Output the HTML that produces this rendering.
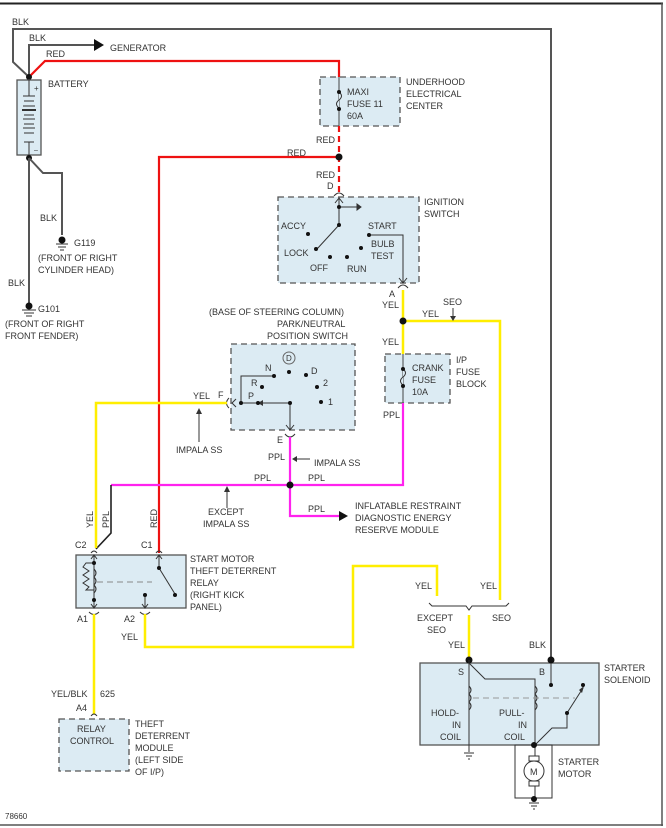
<!DOCTYPE html>
<html><head><meta charset="utf-8"><style>
html,body{margin:0;padding:0;background:#fff;}
svg{display:block;}
text{font-family:"Liberation Sans",Arial,sans-serif;font-size:9px;fill:#333;}
.bx{fill:#dcebf3;stroke:#555;stroke-width:1.3;stroke-dasharray:6,4;}
.sb{fill:#dcebf3;stroke:#555;stroke-width:1.3;}
.k{stroke:#555;stroke-width:2;fill:none;}
.t{stroke:#333;stroke-width:1;fill:none;}
.r{stroke:#ee1111;stroke-width:2.2;fill:none;}
.y{stroke:#ffee00;stroke-width:2.5;fill:none;}
.p{stroke:#ff22ee;stroke-width:2.2;fill:none;}
</style></head><body>
<svg width="666" height="828" viewBox="0 0 666 828" xmlns="http://www.w3.org/2000/svg">
<line x1="0" y1="3.5" x2="663" y2="3.5" stroke="#222" stroke-width="2"/>
<line x1="662" y1="3" x2="662" y2="826" stroke="#555" stroke-width="1.5"/>
<line x1="0" y1="825" x2="663" y2="825" stroke="#555" stroke-width="1.5"/>

<polyline class="k" points="29,77 13,62 13,29 551,29 551,663"/>
<polyline class="k" points="29,77 29,45 95,45"/>
<polygon points="94,39 104,45 94,51" fill="#111"/>
<text x="12" y="25">BLK</text>
<text x="29" y="41">BLK</text>
<text x="110" y="51">GENERATOR</text>
<text x="46" y="57">RED</text>
<polyline class="r" points="29,77 45,61 339,61 339,90"/>
<circle cx="29" cy="77" r="3" fill="#111"/>

<rect x="17" y="80" width="24" height="75" class="sb"/>
<text x="34" y="91" style="font-size:8px">+</text>
<text x="34" y="152" style="font-size:7px">–</text>
<g stroke="#333" stroke-width="1">
<line x1="29" y1="80" x2="29" y2="96"/>
<line x1="23" y1="96" x2="35" y2="96"/>
<line x1="24" y1="101" x2="34" y2="101"/>
<line x1="23" y1="106" x2="35" y2="106"/>
<line x1="22" y1="110" x2="36" y2="110" stroke-width="2"/>
<line x1="24" y1="115" x2="34" y2="115"/>
<line x1="23" y1="119" x2="35" y2="119"/>
<line x1="24" y1="124" x2="34" y2="124"/>
<line x1="23" y1="128" x2="35" y2="128"/>
<line x1="24" y1="133" x2="34" y2="133"/>
<line x1="24" y1="142" x2="34" y2="142"/>
<line x1="29" y1="142" x2="29" y2="155"/>
</g>
<text x="48" y="87">BATTERY</text>
<circle cx="29" cy="158" r="3" fill="#111"/>
<polyline class="k" points="29,158 29,305"/>
<polyline class="k" points="29,158 43,173 62,173 62,235"/>
<text x="40" y="221">BLK</text>
<text x="8" y="286">BLK</text>
<g stroke="#333" stroke-width="1">
<line x1="56" y1="244" x2="68" y2="244"/><line x1="58" y1="247" x2="66" y2="247"/><line x1="60" y1="250" x2="64" y2="250"/>
<line x1="22" y1="310" x2="36" y2="310"/><line x1="24" y1="313" x2="34" y2="313"/><line x1="26" y1="316" x2="32" y2="316"/>
</g>
<circle cx="62" cy="240" r="3.5" fill="#111"/>
<circle cx="29" cy="306" r="3.5" fill="#111"/>
<text x="74" y="246">G119</text>
<text x="38" y="312">G101</text>
<text x="38" y="261">(FRONT OF RIGHT</text>
<text x="38" y="273">CYLINDER HEAD)</text>
<text x="5" y="327">(FRONT OF RIGHT</text>
<text x="5" y="339">FRONT FENDER)</text>

<rect x="320" y="77" width="80" height="49" class="bx"/>
<line x1="339" y1="77" x2="339" y2="126" stroke="#444" stroke-width="1"/>
<path d="M339,92 q5,4 0,8 q-5,4 0,8" fill="#dcebf3" stroke="#333"/>
<circle cx="339" cy="92" r="2" fill="#111"/><circle cx="339" cy="109" r="2" fill="#111"/>
<text x="347" y="95">MAXI</text><text x="347" y="107">FUSE 11</text><text x="347" y="119">60A</text>
<text x="406" y="85">UNDERHOOD</text><text x="406" y="97">ELECTRICAL</text><text x="406" y="109">CENTER</text>
<line x1="339" y1="126" x2="339" y2="192" stroke="#ee1111" stroke-width="2.2" stroke-dasharray="6,4"/>
<text x="316" y="143">RED</text>
<text x="287" y="156">RED</text>
<polyline class="r" points="339,157 159,157 159,553"/>
<circle cx="339" cy="157" r="3.5" fill="#111"/>
<text x="316" y="178">RED</text>
<text x="327" y="189">D</text>
<path d="M334,196 q5,-6 10,0" class="t"/>

<rect x="278" y="197" width="141" height="86" class="bx"/>
<g stroke="#333" stroke-width="1" fill="none">
<line x1="339" y1="197" x2="339" y2="225"/>
<path d="M335,203 l4,-5 l4,5"/>
<line x1="339" y1="207" x2="357" y2="207"/>
<polygon points="357,204 361,207 357,210" fill="#333"/>
<line x1="339" y1="225" x2="317" y2="249"/>
<polyline points="369,235 403,235 403,283"/>
<path d="M399,278 l4,5 l4,-5"/>
</g>
<g fill="#111">
<circle cx="339" cy="207" r="2"/><circle cx="339" cy="225" r="2"/><circle cx="308" cy="234" r="2"/>
<circle cx="316" cy="249" r="2"/><circle cx="330" cy="257" r="2"/><circle cx="347" cy="257" r="2"/>
<circle cx="361" cy="248" r="2"/><circle cx="369" cy="235" r="2"/>
</g>
<text x="281" y="229">ACCY</text><text x="284" y="256">LOCK</text>
<text x="310" y="271">OFF</text><text x="347" y="272">RUN</text>
<text x="368" y="229">START</text><text x="371" y="247">BULB</text><text x="371" y="259">TEST</text>
<text x="424" y="205">IGNITION</text><text x="424" y="217">SWITCH</text>

<path d="M398,288 q5,-6 10,0" class="t"/>
<text x="389" y="297">A</text><text x="382" y="308">YEL</text>
<polyline class="y" points="403,290 403,354"/>
<polyline class="y" points="403,321 500,321 500,600"/>
<circle cx="403" cy="321" r="3.5" fill="#111"/>
<text x="422" y="317">YEL</text>
<text x="443" y="305">SEO</text>
<line x1="453" y1="308" x2="453" y2="319" stroke="#333"/>
<polygon points="450,316 453,321 456,316" fill="#333"/>
<text x="382" y="345">YEL</text>

<rect x="385" y="354" width="65" height="49" class="bx"/>
<line x1="403" y1="354" x2="403" y2="403" stroke="#444" stroke-width="1"/>
<path d="M403,369 q5,4 0,8 q-5,4 0,8" fill="#dcebf3" stroke="#333"/>
<circle cx="403" cy="369" r="2" fill="#111"/><circle cx="403" cy="386" r="2" fill="#111"/>
<text x="412" y="371">CRANK</text><text x="412" y="383">FUSE</text><text x="412" y="395">10A</text>
<text x="456" y="363">I/P</text><text x="456" y="375">FUSE</text><text x="456" y="387">BLOCK</text>
<text x="383" y="418">PPL</text>
<polyline class="p" points="403,403 403,485 111,485"/>
<polyline points="111,485 111,533 96,549" stroke="#222" stroke-width="1.6" fill="none"/>

<text x="209" y="315">(BASE OF STEERING COLUMN)</text>
<text x="277" y="327">PARK/NEUTRAL</text>
<text x="267" y="339">POSITION SWITCH</text>
<rect x="231" y="344" width="124" height="86" class="bx"/>
<circle cx="289" cy="358" r="6" fill="none" stroke="#666"/>
<text x="286" y="361" style="font-size:8px">D</text>
<g stroke="#333" stroke-width="1" fill="none">
<polyline points="274,376 241,376 241,403"/>
<line x1="241" y1="403" x2="290" y2="403"/>
<line x1="290" y1="403" x2="290" y2="430"/>
<path d="M286,425 l4,5 l4,-5"/>
<path d="M236,399 l-4,4 l4,4"/>
</g>
<polygon points="263,400 258,403 263,406" fill="#333"/>
<g fill="#111">
<circle cx="274" cy="376" r="2"/><circle cx="289" cy="372" r="2"/><circle cx="306" cy="375" r="2"/>
<circle cx="262" cy="387" r="2"/><circle cx="317" cy="387" r="2"/><circle cx="321" cy="402" r="2"/>
<circle cx="241" cy="403" r="2"/><circle cx="258" cy="403" r="2"/><circle cx="290" cy="403" r="2"/>
</g>
<text x="265" y="371">N</text><text x="251" y="386">R</text><text x="248" y="399">P</text>
<text x="311" y="374">D</text><text x="323" y="386">2</text><text x="328" y="405">1</text>
<path d="M229,398 q-5,5 0,10" class="t"/>
<text x="218" y="398">F</text>
<text x="193" y="399">YEL</text>
<polyline class="y" points="227,403 96,403 96,548"/>
<line x1="199" y1="410" x2="199" y2="442" stroke="#333"/>
<polygon points="196,414 199,408 202,414" fill="#333"/>
<text x="176" y="453">IMPALA SS</text>
<path d="M285,434 q5,6 10,0" class="t"/>
<text x="277" y="443">E</text>
<polyline class="p" points="290,437 290,516 340,516"/>
<polygon points="339,511 348,516 339,521" fill="#111"/>
<circle cx="290" cy="485" r="3.5" fill="#111"/>
<text x="268" y="460">PPL</text>
<line x1="293" y1="459" x2="310" y2="459" stroke="#333"/>
<polygon points="297,456 292,459 297,462" fill="#333"/>
<text x="314" y="466">IMPALA SS</text>
<text x="254" y="481">PPL</text><text x="308" y="481">PPL</text>
<text x="308" y="512">PPL</text>
<line x1="227" y1="488" x2="227" y2="508" stroke="#333"/>
<polygon points="224,492 227,486 230,492" fill="#333"/>
<text x="208" y="515">EXCEPT</text><text x="203" y="527">IMPALA SS</text>
<text x="355" y="509">INFLATABLE RESTRAINT</text>
<text x="355" y="521">DIAGNOSTIC ENERGY</text>
<text x="355" y="533">RESERVE MODULE</text>

<text transform="translate(93,528) rotate(-90)">YEL</text>
<text transform="translate(109,528) rotate(-90)">PPL</text>
<text transform="translate(157,528) rotate(-90)">RED</text>

<text x="75" y="548">C2</text><text x="141" y="548">C1</text>
<path d="M91,553 q3,-4 6,0" class="t"/><path d="M156,553 q3,-4 6,0" class="t"/>
<rect x="76" y="555" width="110" height="53" class="sb"/>
<g stroke="#333" stroke-width="1" fill="none">
<line x1="94" y1="555" x2="94" y2="608"/>
<path d="M94,563 l-8,0 l-3,4 l6,4 l-6,4 l6,4 l-6,4 l6,4 l-3,3 l8,0"/>
<path d="M94,569 q4,4 0,8 q4,4 0,8 q4,4 0,8"/>
<line x1="97" y1="582" x2="152" y2="582" stroke="#888" stroke-dasharray="6,4"/>
<line x1="159" y1="555" x2="159" y2="568"/>
<line x1="159" y1="568" x2="175" y2="594"/>
<line x1="145" y1="595" x2="145" y2="608"/>
<path d="M142,604 l3,4 l3,-4"/>
<path d="M91,604 l3,4 l3,-4"/><path d="M91,559 l3,-4 l3,4"/><path d="M156,559 l3,-4 l3,4"/>
</g>
<g fill="#111"><circle cx="94" cy="563" r="2"/><circle cx="94" cy="600" r="2"/><circle cx="159" cy="568" r="2"/><circle cx="175" cy="595" r="2"/><circle cx="145" cy="595" r="2"/></g>
<text x="190" y="562">START MOTOR</text><text x="190" y="574">THEFT DETERRENT</text>
<text x="190" y="586">RELAY</text><text x="190" y="598">(RIGHT KICK</text><text x="190" y="610">PANEL)</text>
<path d="M89,612 q5,5 10,0" class="t"/><path d="M140,612 q5,5 10,0" class="t"/>
<text x="77" y="622">A1</text><text x="124" y="622">A2</text>
<polyline class="y" points="94,614 94,714"/>
<polyline class="y" points="145,614 145,647 353,647 353,566 437,566 437,596"/>
<text x="121" y="640">YEL</text>
<text x="51" y="697">YEL/BLK</text><text x="100" y="697">625</text>
<text x="76" y="711">A4</text>
<path d="M91,716 q3,-4 6,0" class="t"/>

<rect x="59" y="719" width="70" height="52" class="bx"/>
<text x="77" y="732">RELAY</text><text x="70" y="744">CONTROL</text>
<text x="135" y="727">THEFT</text><text x="135" y="739">DETERRENT</text>
<text x="135" y="751">MODULE</text><text x="135" y="763">(LEFT SIDE</text><text x="135" y="775">OF I/P)</text>

<text x="415" y="589">YEL</text><text x="480" y="589">YEL</text>
<path d="M429,603 l3,3 l34,0 l3,4 l3,-4 l34,0 l3,-3" fill="none" stroke="#333"/>
<text x="417" y="621">EXCEPT</text><text x="427" y="633">SEO</text>
<text x="492" y="621">SEO</text>
<polyline class="y" points="469,615 469,660"/>
<text x="448" y="648">YEL</text><text x="529" y="648">BLK</text>

<rect x="420" y="663" width="179" height="82" class="sb"/>
<circle cx="469" cy="660" r="3.5" fill="#111"/><circle cx="551" cy="660" r="3.5" fill="#111"/>
<text x="458" y="675">S</text><text x="539" y="675">B</text>
<g stroke="#333" stroke-width="1" fill="none">
<line x1="469" y1="660" x2="469" y2="745"/>
<polyline points="469,663 485,679 535,679 535,745"/>
<path d="M469,686 q4,4 0,8 q4,4 0,8 q4,4 0,8"/>
<path d="M535,686 q4,4 0,8 q4,4 0,8 q4,4 0,8"/>
<line x1="473" y1="698" x2="575" y2="698" stroke="#999" stroke-dasharray="6,4"/>
<line x1="551" y1="663" x2="551" y2="685"/>
<line x1="567" y1="713" x2="583" y2="688"/>
<polyline points="567,713 567,728 552,728 535,745"/>
<polyline points="535,745 535,798"/>
<rect x="515" y="745" width="37" height="53"/>
<circle cx="534" cy="771" r="10" fill="#fff"/>
<rect x="529" y="756" width="10" height="5" fill="#fff"/><rect x="529" y="781" width="10" height="5" fill="#fff"/>
</g>
<polygon points="579,690 584,686 582,693" fill="#333"/>
<g fill="#111"><circle cx="551" cy="685" r="2"/><circle cx="583" cy="685" r="2"/><circle cx="567" cy="713" r="2"/><circle cx="534" cy="745" r="3"/><circle cx="534" cy="799" r="3"/></g>
<text x="530" y="775">M</text>
<text x="431" y="716">HOLD-</text><text x="452" y="728">IN</text><text x="440" y="740">COIL</text>
<text x="499" y="716">PULL-</text><text x="518" y="728">IN</text><text x="504" y="740">COIL</text>
<text x="604" y="671">STARTER</text><text x="604" y="683">SOLENOID</text>
<text x="558" y="765">STARTER</text><text x="558" y="777">MOTOR</text>
<g stroke="#333" stroke-width="1">
<line x1="469" y1="745" x2="469" y2="752"/>
<line x1="464" y1="753" x2="474" y2="753"/><line x1="466" y1="756" x2="472" y2="756"/><line x1="468" y1="759" x2="470" y2="759"/>
<line x1="529" y1="803" x2="539" y2="803"/><line x1="531" y1="806" x2="537" y2="806"/><line x1="533" y1="809" x2="535" y2="809"/>
</g>
<text x="5" y="819" style="font-size:8px">78660</text>
</svg>
</body></html>
